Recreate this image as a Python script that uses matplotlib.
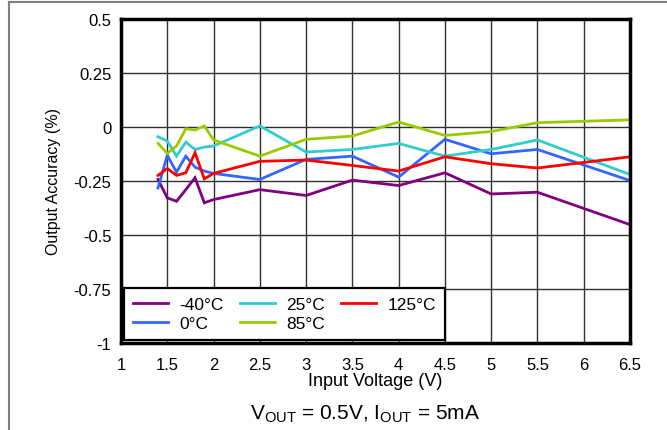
import matplotlib
matplotlib.use("Agg")
import matplotlib.pyplot as plt
from matplotlib.lines import Line2D

plt.rcParams['font.family'] = ['Liberation Sans', 'DejaVu Sans']
plt.rcParams['mathtext.fontset'] = 'custom'
plt.rcParams['mathtext.rm'] = 'Liberation Sans'
plt.rcParams['mathtext.it'] = 'Liberation Sans:italic'

# Input voltage sweep (V)
vin = [1.4, 1.5, 1.6, 1.7, 1.8, 1.9, 2.0, 2.5, 3.0, 3.5, 4.0, 4.5, 5.0, 5.5, 6.5]

# Output accuracy (%) per temperature
acc_m40 = [-0.243, -0.328, -0.344, -0.290, -0.235, -0.351, -0.336, -0.290,
           -0.317, -0.246, -0.271, -0.212, -0.310, -0.302, -0.452]
acc_0 = [-0.282, -0.131, -0.209, -0.135, -0.186, -0.204, -0.215, -0.243,
         -0.150, -0.135, -0.232, -0.057, -0.124, -0.104, -0.248]
acc_25 = [-0.045, -0.065, -0.135, -0.070, -0.104, -0.093, -0.088, 0.005,
          -0.116, -0.104, -0.076, -0.135, -0.104, -0.060, -0.220]
acc_85 = [-0.076, -0.122, -0.088, -0.008, -0.014, 0.005, -0.060, -0.135,
          -0.057, -0.042, 0.023, -0.039, -0.021, 0.020, 0.033]
acc_125 = [-0.224, -0.192, -0.224, -0.212, -0.119, -0.240, -0.215, -0.159,
           -0.153, -0.178, -0.204, -0.138, -0.170, -0.190, -0.138]

series_labels = ['-40°C', '0°C', '25°C', '85°C', '125°C']
series_colors = ['#800080', '#3366FF', '#33CCCC', '#99CC00', '#FF0000']

x_ticks = [1, 1.5, 2, 2.5, 3, 3.5, 4, 4.5, 5, 5.5, 6, 6.5]
x_tick_labels = ['1', '1.5', '2', '2.5', '3', '3.5', '4', '4.5', '5', '5.5', '6', '6.5']
y_ticks = [0.5, 0.25, 0, -0.25, -0.5, -0.75, -1]
y_tick_labels = ['0.5', '0.25', '0', '-0.25', '-0.5', '-0.75', '-1']

fig = plt.figure(figsize=(6.67, 4.31), dpi=100)
ax = fig.add_axes([121 / 667, 1 - 344 / 431, 509 / 667, 324 / 431])

series = [acc_m40, acc_0, acc_25, acc_85, acc_125]
for vals, lab, col in zip(series, series_labels, series_colors):
    ax.plot(vin, vals, color=col, lw=2.0, label=lab, solid_joinstyle='miter')

ax.set_xlim(1, 6.5)
ax.set_ylim(-1, 0.5)
ax.set_xticks(x_ticks)
ax.set_xticklabels(x_tick_labels)
ax.set_yticks(y_ticks)
ax.set_yticklabels(y_tick_labels)
ax.tick_params(axis='both', length=0, labelsize=12, colors='black')
ax.tick_params(axis='x', pad=10)
ax.tick_params(axis='y', pad=7)
ax.grid(True, color='#303030', lw=1.0)
ax.set_axisbelow(True)
for sp in ax.spines.values():
    sp.set_linewidth(2.5)
    sp.set_color('black')

ax.set_xlabel('Input Voltage (V)', fontsize=13, labelpad=0)
ax.set_ylabel('Output Accuracy (%)', fontsize=11.5, labelpad=9)

leg = ax.legend(ncol=3, loc='lower left', bbox_to_anchor=(0.0, 0.0),
                borderaxespad=0.15, fontsize=12.5, frameon=True, fancybox=False,
                handlelength=2.0, handletextpad=0.65, columnspacing=0.95,
                labelspacing=0.2, borderpad=0.55)
leg.get_frame().set_edgecolor('black')
leg.get_frame().set_linewidth(1.6)
leg.get_frame().set_alpha(1)
for h in leg.get_lines():
    h.set_linewidth(2.0)

fig.text(365 / 667, 1 - 414 / 431,
         r'V$_{\mathrm{OUT}}$ = 0.5V, I$_{\mathrm{OUT}}$ = 5mA',
         ha='center', va='center', fontsize=15)

# Outer panel border (top and left edges)
fig.add_artist(Line2D([8.5 / 667, 1], [1 - 2.5 / 431, 1 - 2.5 / 431],
                      transform=fig.transFigure, color='#808080', lw=1.5))
fig.add_artist(Line2D([8.5 / 667, 8.5 / 667], [0, 1 - 2.5 / 431],
                      transform=fig.transFigure, color='#808080', lw=1.5))

fig.savefig('out.png', dpi=100)
